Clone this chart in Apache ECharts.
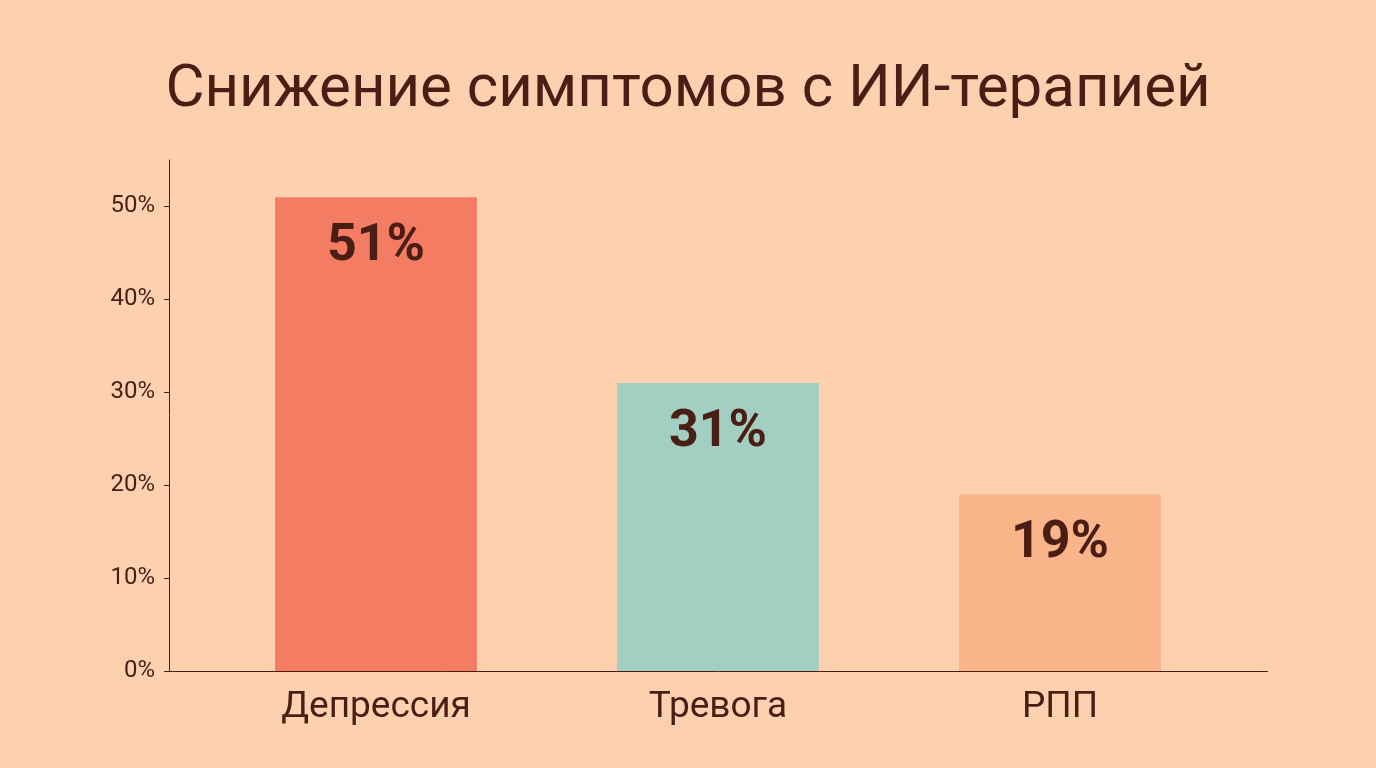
<!DOCTYPE html><html><head><meta charset="utf-8"><script src="https://cdn.jsdelivr.net/npm/echarts@6/dist/echarts.min.js"></script>
<style>html,body{margin:0;background:#FDD0B0}#c{width:1376px;height:768px}</style></head><body><div id="c"></div><script>
const categories=["Депрессия","Тревога","РПП"];
const values=[51,31,19];
const colors=["#F47C62","#A3CFC2","#F9B48A"];
const c=echarts.init(document.getElementById('c'));
c.setOption({backgroundColor:'#FDD0B0',
title:{text:'Снижение симптомов с ИИ-терапией',left:'center',top:56,textStyle:{fontFamily:'Roboto',fontSize:60,fontWeight:'normal',color:'#4A1E14'}},
grid:{left:205,right:145,top:160,bottom:97},
graphic:[{type:'line',shape:{x1:169,y1:671.5,x2:1268,y2:671.5},style:{stroke:'#4A1E14',lineWidth:1}}],
xAxis:{type:'category',data:categories,axisLine:{show:false},axisTick:{show:false},axisLabel:{fontFamily:'Roboto',fontSize:37,color:'#4A1E14',margin:18}},
yAxis:{type:'value',min:0,max:55,interval:10,offset:36,axisLine:{show:true,lineStyle:{color:'#4A1E14'}},axisTick:{show:true,length:5,lineStyle:{color:'#4A1E14'}},splitLine:{show:false},axisLabel:{showMaxLabel:false,fontFamily:'Roboto',fontSize:24,color:'#4A1E14',formatter:'{value}%',margin:14}},
series:[{type:'bar',barWidth:'59%',data:values.map((v,i)=>({value:v,itemStyle:{color:colors[i]}})),label:{show:true,position:'insideTop',distance:24,formatter:'{c}%',fontFamily:'Roboto',fontWeight:'bold',fontSize:52,color:'#4A1E14'}}]});
</script></body></html>
